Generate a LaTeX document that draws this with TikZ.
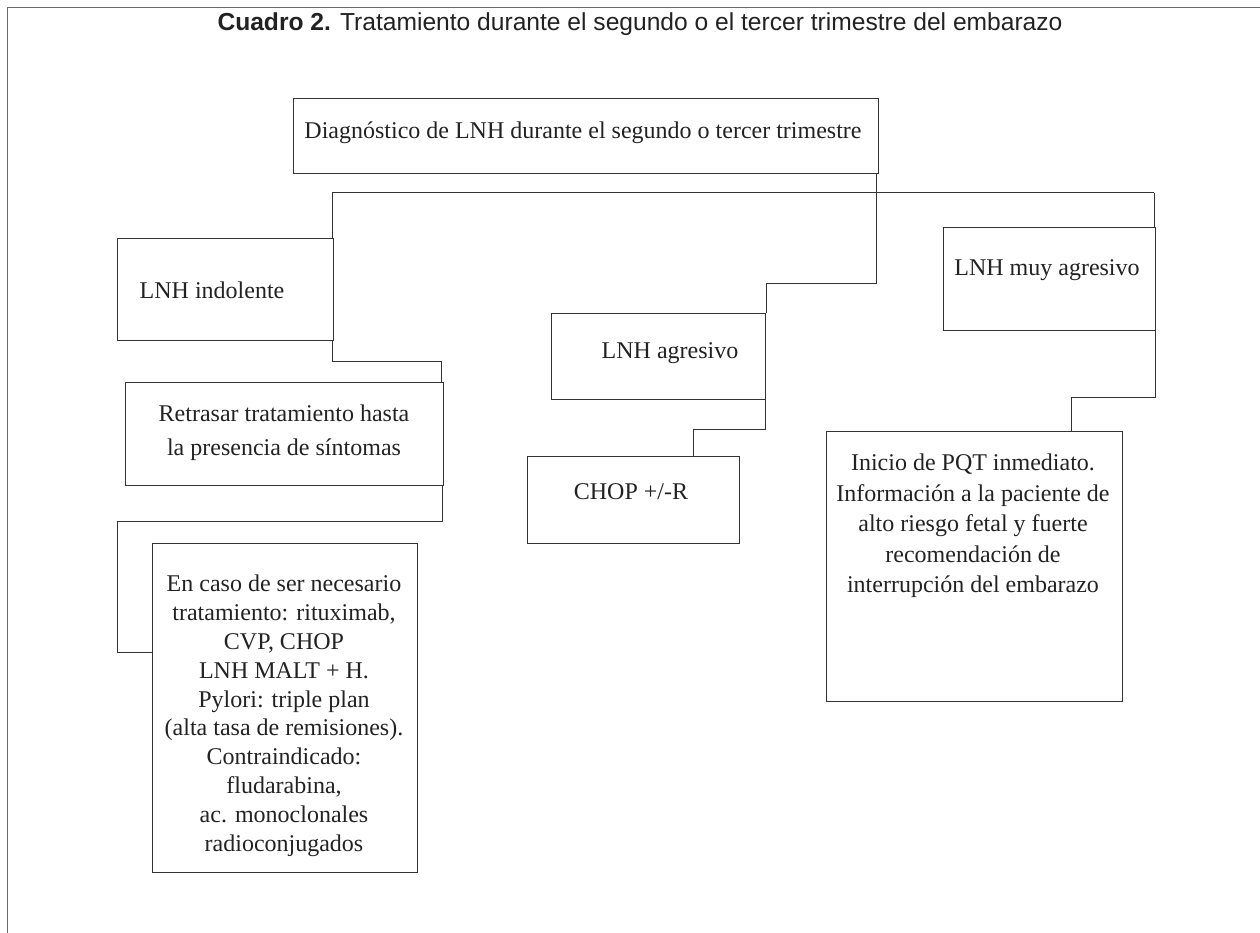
\documentclass[tikz,border=0pt]{standalone}
\usepackage{fontspec}
\setmainfont{Liberation Serif}
\newfontfamily\titlefont{Liberation Sans}
\usetikzlibrary{calc}
\definecolor{ink}{HTML}{222222}
\definecolor{edge}{HTML}{333333}
\definecolor{framec}{HTML}{6A6A6A}
\tikzset{
  box/.style={draw=edge, line width=1pt, inner sep=0pt, anchor=north west, rectangle},
  conn/.style={draw=edge, line width=1pt},
  txt/.style={text=ink, font=\fontsize{24}{28.8}\selectfont, align=center, inner sep=0pt},
}
\begin{document}
\begin{tikzpicture}[x=1pt,y=-1pt]
\useasboundingbox (0,0) rectangle (1260,933);
% frame
\draw[framec, line width=1.6pt] (7.5,933) -- (7.5,7.5) -- (1260,7.5);
\node[text=ink, inner sep=0pt, anchor=base, font=\titlefont\fontsize{24.6}{28}\selectfont] (title) at (640,31)
  {\textbf{Cuadro 2.} Tratamiento durante el segundo o el tercer trimestre del embarazo};
% boxes
\node[box, minimum width=585pt, minimum height=75pt] (diag) at (293,98) {};
\node[box, minimum width=216pt, minimum height=102pt] (ind) at (117,238) {};
\node[box, minimum width=318pt, minimum height=103pt] (ret) at (125,382) {};
\node[box, minimum width=265pt, minimum height=329pt] (enc) at (152,543) {};
\node[box, minimum width=214pt, minimum height=86pt] (agr) at (551,313) {};
\node[box, minimum width=212pt, minimum height=87pt] (chop) at (527,456) {};
\node[box, minimum width=212pt, minimum height=103pt] (muy) at (943,227) {};
\node[box, minimum width=296pt, minimum height=270pt] (ini) at (826,431) {};
% texts
\node[txt] (tdiag) at (583,133) {Diagnóstico de LNH durante el segundo o tercer trimestre};
\node[txt] (tind) at (212,290) {LNH indolente};
\node[txt, font=\fontsize{24}{34}\selectfont] (tret) at (284,433) {Retrasar tratamiento hasta\\la presencia de síntomas};
\node[txt, anchor=north] (tenc) at (284,575) {En caso de ser necesario\\tratamiento: rituximab,\\CVP, CHOP\\LNH MALT + H.\\Pylori: triple plan\\(alta tasa de remisiones).\\Contraindicado:\\fludarabina,\\ac. monoclonales\\radioconjugados};
\node[txt] (tagr) at (670,353) {LNH agresivo};
\node[txt] (tchop) at (631,492) {CHOP +/-R};
\node[txt] (tmuy) at (1047,270) {LNH muy agresivo};
\node[txt, anchor=north, font=\fontsize{24}{30.5}\selectfont] (tini) at (973,454) {Inicio de PQT inmediato.\\Información a la paciente de\\alto riesgo fetal y fuerte\\recomendación de\\interrupción del embarazo};
% connectors
\coordinate (busL) at (332,193);
\coordinate (busR) at (1154,193);
\coordinate (trunk) at (876,283);
\draw[conn] (busL) -- (busR);
\draw[conn] (busL) -- (ind.north -| busL);
\draw[conn] (busR) -- (muy.north -| busR);
\draw[conn] (diag.south -| trunk) -- (trunk) -| (agr.north east);
\draw[conn] ($(ind.south east)+(-2,0)$) |- (441,361) -- (ret.north -| 441,0);
\draw[conn] ($(ret.south east)+(-2,0)$) |- (117,521) |- (enc.west |- 0,652);
\draw[conn] ($(agr.south east)+(-1,0)$) |- (693,429) -- (chop.north -| 693,0);
\draw[conn] ($(muy.south east)+(-1,0)$) |- (1071,397) -- (ini.north -| 1071,0);
\end{tikzpicture}
\end{document}
